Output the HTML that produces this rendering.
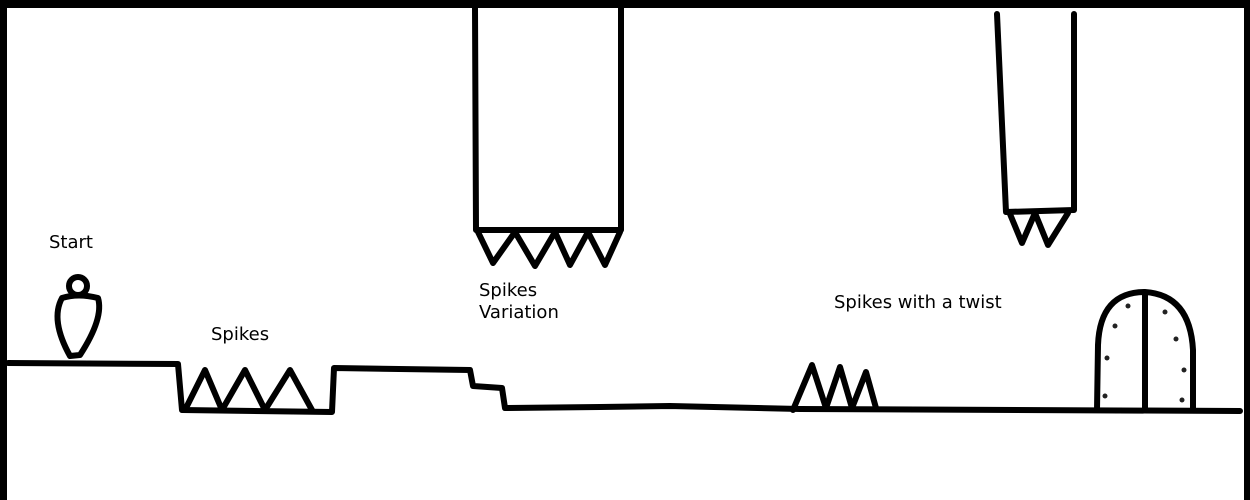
<!DOCTYPE html>
<html><head><meta charset="utf-8"><style>
html,body{margin:0;padding:0;background:#fff;}
svg{display:block}
text{font-family:"DejaVu Sans","Liberation Sans",sans-serif;font-size:18px;fill:#000}
</style></head><body>
<svg width="1250" height="500" viewBox="0 0 1250 500">
<rect x="0" y="0" width="1250" height="500" fill="#fff"/>
<rect x="0" y="0" width="1250" height="8" fill="#000"/>
<rect x="0" y="0" width="7" height="500" fill="#000"/>
<rect x="1244" y="0" width="6" height="500" fill="#000"/>
<g fill="none" stroke="#000" stroke-width="6" stroke-linejoin="round" stroke-linecap="round">
<path d="M8 363 L178 364 L182 410 L332 412 L334 368 L470 370 L473 386 L502 388 L505 408 L600 407 L670 406 L800 409 L1240 411"/>
<circle cx="78" cy="286" r="9"/>
<path d="M62 298 Q78 293 98 298 Q104 318 80 355 L70 356 Q50 320 62 298 Z"/>
<path d="M185 410 L205 370 L222 410 L245 370 L265 410 L290 370 L312 410"/>
<path d="M475 8 L476 230 L621 230 L621 8"/>
<path d="M478 232 L493 263 L515 232 L535 266 L555 232 L570 265 L588 232 L605 265 L620 232"/>
<path d="M997 14 L1006 212 L1074 210 L1074 14"/>
<path d="M1010 214 L1022 243 L1035 213 L1048 245 L1068 213"/>
<path d="M793 410 L812 365 L826 408 L840 367 L852 408 L866 372 L876 408"/>
<path d="M1097 410 L1098 345 Q1100 292 1145 292 Q1190 295 1193 350 L1193 408"/>
<path d="M1145 295 L1145 410"/>
</g>
<g fill="#222">
<circle cx="1128" cy="306" r="2.5"/><circle cx="1115" cy="326" r="2.5"/><circle cx="1107" cy="358" r="2.5"/><circle cx="1105" cy="396" r="2.5"/>
<circle cx="1165" cy="312" r="2.5"/><circle cx="1176" cy="339" r="2.5"/><circle cx="1184" cy="370" r="2.5"/><circle cx="1182" cy="400" r="2.5"/>
</g>
<text x="49" y="248">Start</text>
<text x="211" y="340">Spikes</text>
<text x="479" y="296">Spikes</text>
<text x="479" y="318">Variation</text>
<text x="834" y="308">Spikes with a twist</text>
</svg>
</body></html>
